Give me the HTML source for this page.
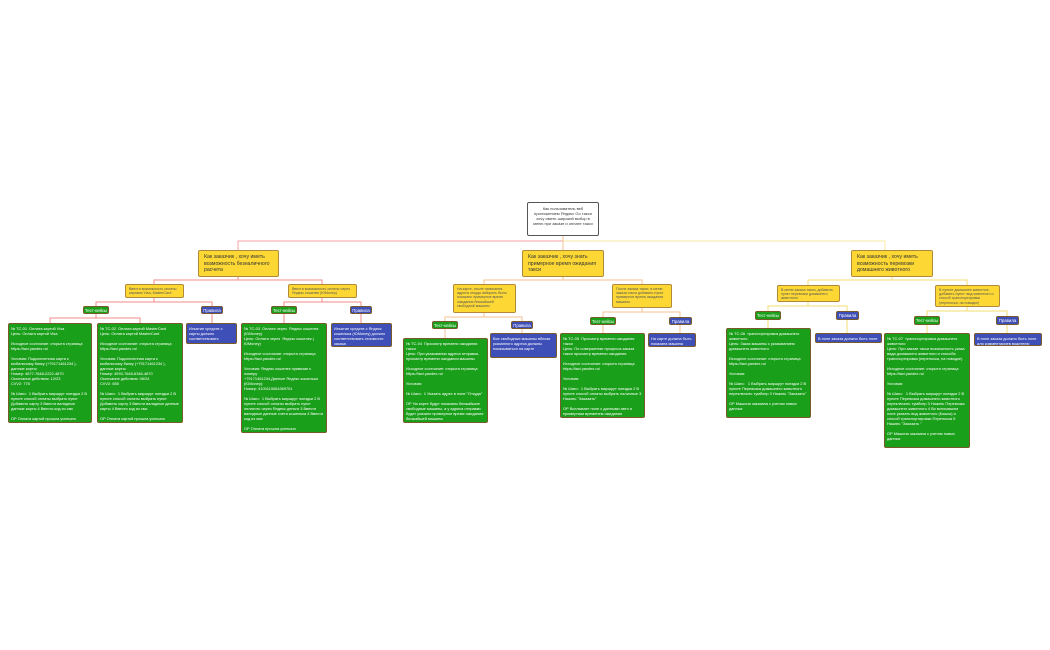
<!DOCTYPE html>
<html><head><meta charset="utf-8">
<style>
html,body{margin:0;padding:0;background:#fff;width:1050px;height:650px;overflow:hidden;position:relative;font-family:"Liberation Sans","DejaVu Sans",sans-serif;}
.n{position:absolute;box-sizing:border-box;border-radius:2px;}
.root{background:#fff;border:1px solid #555;color:#333;font-size:4px;line-height:5px;text-align:center;padding:3px 4px;}
.y1{background:#fdd835;border:1px solid #b08a3a;color:#333;font-size:5.2px;line-height:6.6px;padding:3px 5px;overflow:hidden;}
.y2{background:#fdd835;border:1px solid #b08a3a;color:#555;font-size:3.6px;line-height:4.4px;padding:1.5px 3px;overflow:hidden;}
.t{background:#1a9f1a;border:1px solid #7a5a2a;color:#fff;font-size:4.3px;line-height:7px;text-align:center;}
.p{background:#3f4fb8;border:1px solid #7a5a2a;color:#fff;font-size:4.3px;line-height:7px;text-align:center;}
.g{background:#1a9f1a;border:1px solid #7a5a2a;color:#fff;font-size:3.9px;line-height:5px;padding:1.5px 2px;white-space:pre-wrap;overflow:hidden;}
.b{background:#3f4fb8;border:1px solid #7a5a2a;color:#fff;font-size:3.9px;line-height:5px;padding:1.5px 2px;overflow:hidden;}
</style></head><body>
<svg width="1050" height="650" style="position:absolute;left:0;top:0" fill="none" stroke-width="1">
<path d="M563 236V241" stroke="#f4c090"/>
<path d="M238 250V241H563" stroke="#f4a0a0"/>
<path d="M563 241H885V250" stroke="#f6e8a0"/>
<path d="M563 241V250" stroke="#f4c090"/>
<g stroke="#f08a8a">
<path d="M238 277V280H154V284M238 280H322V284"/>
<path d="M154 298V302H96V306M154 302H212V306"/>
<path d="M96 313V318H50V323M96 318H140V323M212 314V323"/>
<path d="M322 298V302H284V306M322 302H361V306"/>
<path d="M284 314V323M361 314V323"/>
</g>
<g stroke="#f4c090">
<path d="M563 277V280H484V284M563 280H642V284"/>
<path d="M484 313V317H445V321M484 317H522V321"/>
<path d="M445 329V338M522 329V333"/>
<path d="M642 308V312H603V317M642 312H680V317"/>
<path d="M603 325V333M680 325V333"/>
</g>
<g stroke="#f2dc70">
<path d="M892 277V280H808V285M892 280H967V285"/>
<path d="M808 302V306H768V311M808 306H847V311"/>
<path d="M768 320V328M847 320V333"/>
<path d="M967 307V311H927V316M967 311H1007V316"/>
<path d="M927 325V333M1007 325V333"/>
</g>
</svg>

<div class="n root" style="left:527px;top:202px;width:72px;height:34px;">Как пользователь веб приложением Яндекс Go такси хочу иметь широкий выбор в меню при заказе и оплате такси</div>

<div class="n y1" style="left:198px;top:250px;width:81px;height:27px;">Как заказчик , хочу иметь возможность безналичного расчета</div>
<div class="n y1" style="left:522px;top:250px;width:82px;height:27px;">Как заказчик , хочу знать примерное время ожидания такси</div>
<div class="n y1" style="left:851px;top:250px;width:82px;height:27px;">Как заказчик , хочу иметь возможность перевозки домашнего животного</div>

<div class="n y2" style="left:125px;top:284px;width:59px;height:14px;">Ввести возможность оплаты картами Visa, MasterCard</div>
<div class="n y2" style="left:288px;top:284px;width:69px;height:14px;">Ввести возможность оплаты через Яндекс кошелек (ЮMoney)</div>
<div class="n y2" style="left:453px;top:284px;width:63px;height:29px;">На карте, после написания адреса откуда забирать было показано примерное время ожидания ближайшей свободной машины</div>
<div class="n y2" style="left:612px;top:284px;width:60px;height:24px;">После заказа такси, в меню заказа такси добавить пункт примерное время ожидания машины</div>
<div class="n y2" style="left:777px;top:285px;width:63px;height:17px;">В меню заказа такси, добавить пункт перевозки домашнего животного</div>
<div class="n y2" style="left:935px;top:285px;width:65px;height:22px;">В пункте домашнее животное, добавить пункт: вид животного и способ транспортировки (переноска, на поводке)</div>

<div class="n t" style="left:83px;top:306px;width:26px;height:8px;">Тест-кейсы</div>
<div class="n p" style="left:201px;top:306px;width:22px;height:8px;">Правила</div>
<div class="n t" style="left:271px;top:306px;width:26px;height:8px;">Тест-кейсы</div>
<div class="n p" style="left:350px;top:306px;width:22px;height:8px;">Правила</div>
<div class="n t" style="left:432px;top:321px;width:26px;height:8px;">Тест-кейсы</div>
<div class="n p" style="left:511px;top:321px;width:22px;height:8px;">Правила</div>
<div class="n t" style="left:590px;top:317px;width:26px;height:8px;">Тест-кейсы</div>
<div class="n p" style="left:669px;top:317px;width:23px;height:8px;">Правила</div>
<div class="n t" style="left:755px;top:311px;width:26px;height:9px;">Тест-кейсы</div>
<div class="n p" style="left:836px;top:311px;width:23px;height:9px;">Правила</div>
<div class="n t" style="left:914px;top:316px;width:26px;height:9px;">Тест-кейсы</div>
<div class="n p" style="left:996px;top:316px;width:23px;height:9px;">Правила</div>

<div class="n g" style="left:8px;top:323px;width:84px;height:100px;">№ TC-01  Оплата картой Visa
Цель: Оплата картой Visa

Исходное состояние: открыта страница https://taxi.yandex.ru/

Условия: Подключенная карта к мобильному банку (+79171461234 ), данные карты:
Номер: 4877-7648-2222-4870
Окончание действия: 12/23
CVV2: 778

№ Шаги:  1 Выбрать маршрут поездки 2 В пункте способ оплаты выбрать пункт Добавить карту 3 Ввести валидные данные карты 4 Ввести код из смс

ОР Оплата картой прошла успешно</div>
<div class="n g" style="left:97px;top:323px;width:86px;height:100px;">№ TC-02  Оплата картой MasterCard
Цель: Оплата картой MasterCard

Исходное состояние: открыта страница https://taxi.yandex.ru/

Условия: Подключенная карта к мобильному банку (+79171461234 ), данные карты:
Номер: 4593-7648-6346-4870
Окончание действия: 06/24
CVV2: 655

№ Шаги:  1 Выбрать маршрут поездки 2 В пункте способ оплаты выбрать пункт Добавить карту 3 Ввести валидные данные карты 4 Ввести код из смс

ОР Оплата картой прошла успешно</div>
<div class="n b" style="left:186px;top:323px;width:51px;height:21px;">Изъятие средств с карты должно соответствовать стоимости заказа</div>

<div class="n g" style="left:241px;top:323px;width:86px;height:110px;">№ TC-03  Оплата через  Яндекс кошелек (ЮMoney)
Цель: Оплата через  Яндекс кошелек ( ЮMoney)

Исходное состояние: открыта страница https://taxi.yandex.ru/

Условия: Яндекс кошелек привязан к номеру
+79171461234,Данные Яндекс кошелька (ЮMoney):
Номер: 4100115084369701

№ Шаги:  1 Выбрать маршрут поездки 2 В пункте способ оплаты выбрать пункт оплатить через Яндекс деньги 3 Ввести валидные данные счета кошелька 4 Ввести код из смс

ОР Оплата прошла успешно</div>
<div class="n b" style="left:331px;top:323px;width:61px;height:24px;">Изъятие средств с Яндекс кошелька (ЮMoney)  должно соответствовать стоимости заказа</div>

<div class="n g" style="left:403px;top:338px;width:85px;height:85px;">№ TC-04  Просмотр времени ожидания такси
Цель: При указывании адреса отправки, просмотр времени ожидания машины

Исходное состояние: открыта страница https://taxi.yandex.ru/

Условия:

№ Шаги:  1 Указать адрес в поле "Откуда"

ОР На карте будут показаны ближайшие свободные машины, а у адреса отправки будет указано примерное время ожидания ближайшей машины</div>
<div class="n b" style="left:490px;top:333px;width:67px;height:25px;">Все свободные машины вблизи указанного адреса должны показываться на карте</div>

<div class="n g" style="left:560px;top:333px;width:85px;height:85px;">№ TC-05  Просмотр времени ожидания такси
Цель: По совершению процесса заказа такси просмотр времени ожидания

Исходное состояние: открыта страница https://taxi.yandex.ru/

Условия:

№ Шаги:  1 Выбрать маршрут поездки 2 В пункте способ оплаты выбрать наличные 3 Нажать "Заказать"

ОР Всплывает поле с данными авто и примерным временем ожидания</div>
<div class="n b" style="left:648px;top:333px;width:48px;height:14px;">На карте должна быть показана машина которая приняла заказ</div>

<div class="n g" style="left:726px;top:328px;width:85px;height:90px;">№ TC-06  транспортировка домашнего животного
Цель: Заказ машины с указыванием домашнего животного

Исходное состояние: открыта страница https://taxi.yandex.ru/

Условия:

№ Шаги:   1 Выбрать маршрут поездки 2 В пункте Перевозка домашнего животного переключить тумблер 3 Нажать "Заказать"

ОР Машина заказана с учетом новых данных</div>
<div class="n b" style="left:815px;top:333px;width:67px;height:10px;">В поле заказа должно быть поле для комментариев водителю</div>

<div class="n g" style="left:884px;top:333px;width:86px;height:115px;">№ TC-07  транспортировка домашнего животного
Цель: При заказе такси возможность указа вида домашнего животного и способа транспортировки (переноска, на поводке)

Исходное состояние: открыта страница https://taxi.yandex.ru/

Условия:

№ Шаги:   1 Выбрать маршрут поездки 2 В пункте Перевозка домашнего животного переключить тумблер 3 Нажать Перевозка домашнего животного 4 Во всплывшем поле указать вид животного (Кошка) и способ транспортировки Переноска 5 Нажать "Заказать "

ОР Машина заказана с учетом новых данных</div>
<div class="n b" style="left:974px;top:333px;width:68px;height:13px;">В поле заказа должно быть поле для комментариев водителю</div>
</body></html>
